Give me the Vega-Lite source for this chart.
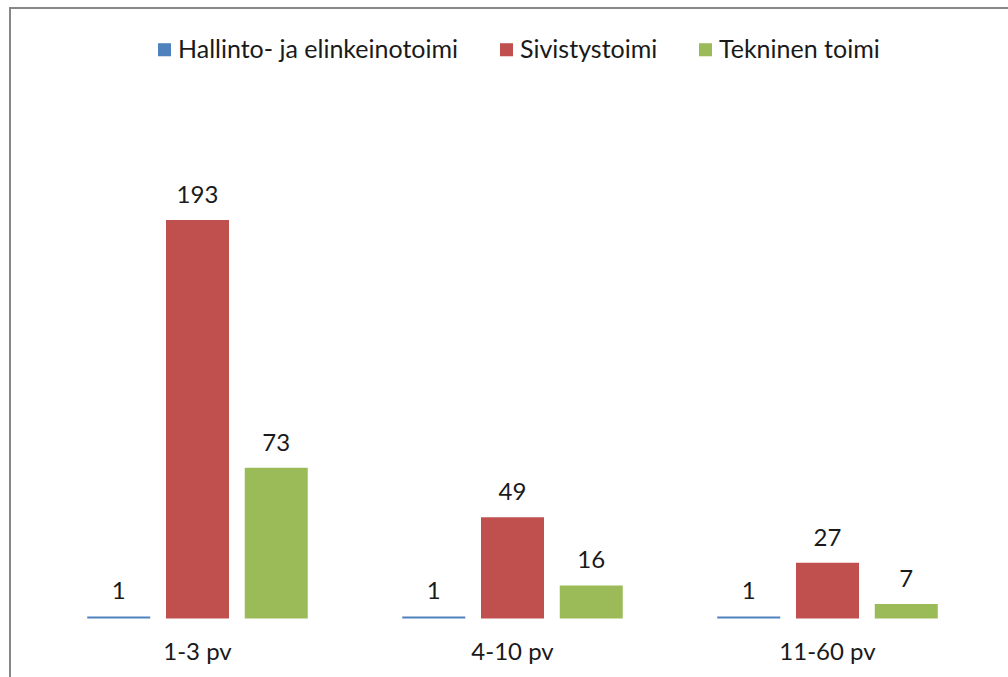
{
  "$schema": "https://vega.github.io/schema/vega-lite/v6.json",
  "width": 1005,
  "height": 690,
  "autosize": {"type": "none"},
  "padding": {"left": 10, "top": 8, "right": -7, "bottom": -21},
  "background": "white",
  "config": {
    "view": {"stroke": "#878787", "strokeWidth": 2, "fill": null},
    "font": "Lato"
  },
  "data": {
    "values": [
      {"cat": "1-3 pv", "series": "Hallinto- ja elinkeinotoimi", "value": 1},
      {"cat": "1-3 pv", "series": "Sivistystoimi", "value": 193},
      {"cat": "1-3 pv", "series": "Tekninen toimi", "value": 73},
      {"cat": "4-10 pv", "series": "Hallinto- ja elinkeinotoimi", "value": 1},
      {"cat": "4-10 pv", "series": "Sivistystoimi", "value": 49},
      {"cat": "4-10 pv", "series": "Tekninen toimi", "value": 16},
      {"cat": "11-60 pv", "series": "Hallinto- ja elinkeinotoimi", "value": 1},
      {"cat": "11-60 pv", "series": "Sivistystoimi", "value": 27},
      {"cat": "11-60 pv", "series": "Tekninen toimi", "value": 7}
    ]
  },
  "encoding": {
    "x": {
      "field": "cat",
      "type": "nominal",
      "sort": ["1-3 pv", "4-10 pv", "11-60 pv"],
      "scale": {"type": "band", "domain": ["1-3 pv", "4-10 pv", "11-60 pv"], "paddingInner": 0, "paddingOuter": 0.0952},
      "axis": {
        "orient": "bottom",
        "offset": -79.5,
        "domain": false,
        "ticks": false,
        "title": null,
        "labelAngle": 0,
        "labelFontSize": 24,
        "labelColor": "#1a1a1a",
        "labelPadding": 22
      }
    },
    "y": {
      "field": "value",
      "type": "quantitative",
      "stack": null,
      "scale": {"domain": [-38.5, 295.64], "nice": false, "zero": false},
      "axis": null
    }
  },
  "layer": [
    {
      "data": {"values": [{"cat": "1-3 pv"}, {"cat": "4-10 pv"}, {"cat": "11-60 pv"}]},
      "mark": {"type": "bar", "fillOpacity": 0, "stroke": "#8c8c8c", "strokeWidth": 1.5},
      "encoding": {
        "y": {"datum": 0, "type": "quantitative"},
        "y2": {"datum": 0}
      }
    },
    {
      "mark": {"type": "bar"},
      "encoding": {
        "y2": {"datum": 0},
        "xOffset": {
          "field": "series",
          "type": "nominal",
          "scale": {"domain": ["Hallinto- ja elinkeinotoimi", "Sivistystoimi", "Tekninen toimi"], "paddingInner": 0.2, "paddingOuter": 0.6}
        },
        "color": {
          "field": "series",
          "type": "nominal",
          "scale": {"domain": ["Hallinto- ja elinkeinotoimi", "Sivistystoimi", "Tekninen toimi"], "range": ["#4F81BD", "#C0504D", "#9BBB59"]},
          "legend": {
            "orient": "none",
            "legendX": 142,
            "legendY": 29,
            "direction": "horizontal",
            "title": null,
            "symbolType": "square",
            "symbolSize": 170,
            "symbolStrokeWidth": 0,
            "labelFontSize": 25,
            "labelLimit": 0,
            "labelOffset": 1,
            "labelColor": "#1a1a1a",
            "columnPadding": 35,
            "padding": 0
          }
        }
      }
    },
    {
      "mark": {"type": "text", "baseline": "alphabetic", "dy": -17, "fontSize": 24, "color": "#1a1a1a"},
      "encoding": {
        "xOffset": {"field": "series", "type": "nominal"},
        "text": {"field": "value", "type": "quantitative"}
      }
    }
  ]
}
